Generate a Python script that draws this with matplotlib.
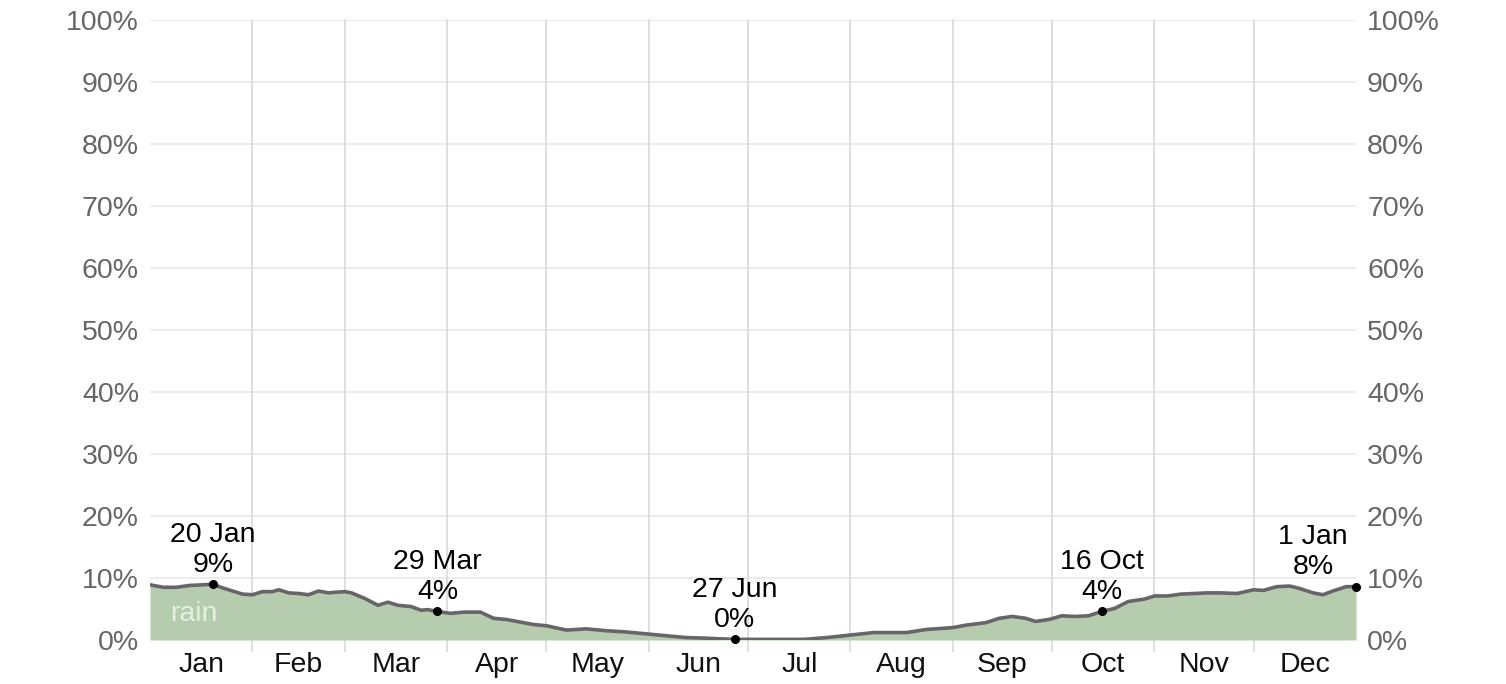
import matplotlib.pyplot as plt

plt.rcParams['font.family'] = ['Liberation Sans', 'DejaVu Sans']

# day of year (0 = 1 Jan) and chance of rain in %
days = [0, 4, 8, 12, 16, 19, 22, 25, 28, 31, 34, 37, 39, 42, 45, 48, 51, 54, 56,
        59, 61, 65, 69, 72, 75, 79, 82, 84, 87, 91, 95, 100, 104, 108, 112, 116,
        120, 126, 132, 138, 144, 150, 156, 162, 168, 172, 177, 188, 198, 205, 212,
        219, 229, 235, 243, 247, 253, 257, 261, 265, 268, 272, 276, 280, 284, 288,
        292, 296, 301, 304, 308, 312, 316, 320, 324, 329, 334, 337, 341, 345, 348,
        352, 355, 358, 362, 365]
rain = [8.9, 8.5, 8.5, 8.8, 8.9, 9.0, 8.4, 7.9, 7.4, 7.3, 7.8, 7.8, 8.1, 7.6, 7.5,
        7.3, 7.9, 7.6, 7.7, 7.8, 7.6, 6.7, 5.6, 6.1, 5.6, 5.4, 4.8, 4.9, 4.6, 4.3,
        4.5, 4.5, 3.5, 3.3, 2.9, 2.5, 2.3, 1.6, 1.8, 1.5, 1.3, 1.0, 0.7, 0.4, 0.3,
        0.2, 0.1, 0.1, 0.1, 0.4, 0.8, 1.2, 1.2, 1.7, 2.0, 2.4, 2.8, 3.5, 3.8, 3.5,
        3.0, 3.3, 3.9, 3.8, 3.9, 4.6, 5.1, 6.2, 6.6, 7.1, 7.1, 7.4, 7.5, 7.6, 7.6,
        7.5, 8.1, 8.0, 8.6, 8.7, 8.3, 7.6, 7.3, 7.9, 8.6, 8.6]

month_starts = [0, 31, 59, 90, 120, 151, 181, 212, 243, 273, 304, 334, 365]
month_names = ['Jan', 'Feb', 'Mar', 'Apr', 'May', 'Jun', 'Jul', 'Aug', 'Sep',
               'Oct', 'Nov', 'Dec']

# annotated points
marks_day = [19, 87, 177, 288, 365]
marks_date = ['20 Jan', '29 Mar', '27 Jun', '16 Oct', '1 Jan']
marks_pct = ['9%', '4%', '0%', '4%', '8%']
marks_textx = [19, 87, 177, 288, 352]

fig = plt.figure(figsize=(15.06, 6.84), dpi=100)
ax = fig.add_axes([150/1506, 1-640/684, 1206/1506, 620/684])

ax.set_xlim(0, 365)
ax.set_ylim(0, 100)

for y in range(10, 101, 10):
    ax.axhline(y, color='#e9e9e9', lw=1.2, zorder=0)
for d in month_starts[1:-1]:
    ax.axvline(d, ymin=-0.017, ymax=1, color='#d9d9d9', lw=1.2, zorder=0, clip_on=False)

ax.fill_between(days, rain, 0, color='#b5cdae', lw=0, zorder=1)
ax.plot(days, rain, color='#666666', lw=2.6, zorder=2, solid_joinstyle='round',
        solid_capstyle='round')

ax.text(6.2, 4.2, 'rain', color='#e6f0e2', fontsize=20.5, va='center', ha='left', zorder=3)

for d, tx, t1, t2 in zip(marks_day, marks_textx, marks_date, marks_pct):
    v = rain[days.index(d)]
    ax.plot(d, v, 'o', color='black', ms=5.5, zorder=4, clip_on=False)
    ax.text(tx, v + 1.0, t1 + '\n' + t2, ha='center', va='bottom', fontsize=20.5,
            color='black', linespacing=1.2, zorder=5)

for s in ax.spines.values():
    s.set_visible(False)

ticks = list(range(0, 101, 10))
ax.set_yticks(ticks)
ax.set_yticklabels([f'{t}%' for t in ticks])
ax.tick_params(axis='y', length=0, labelsize=20.5, labelcolor='#666666', pad=8,
               labelright=True)

centers = [(a + b) / 2 for a, b in zip(month_starts[:-1], month_starts[1:])]
ax.set_xticks(centers)
ax.set_xticklabels(month_names)
ax.tick_params(axis='x', length=0, labelsize=20.5, labelcolor='#111111', pad=9)

fig.savefig('out.png', dpi=100)
